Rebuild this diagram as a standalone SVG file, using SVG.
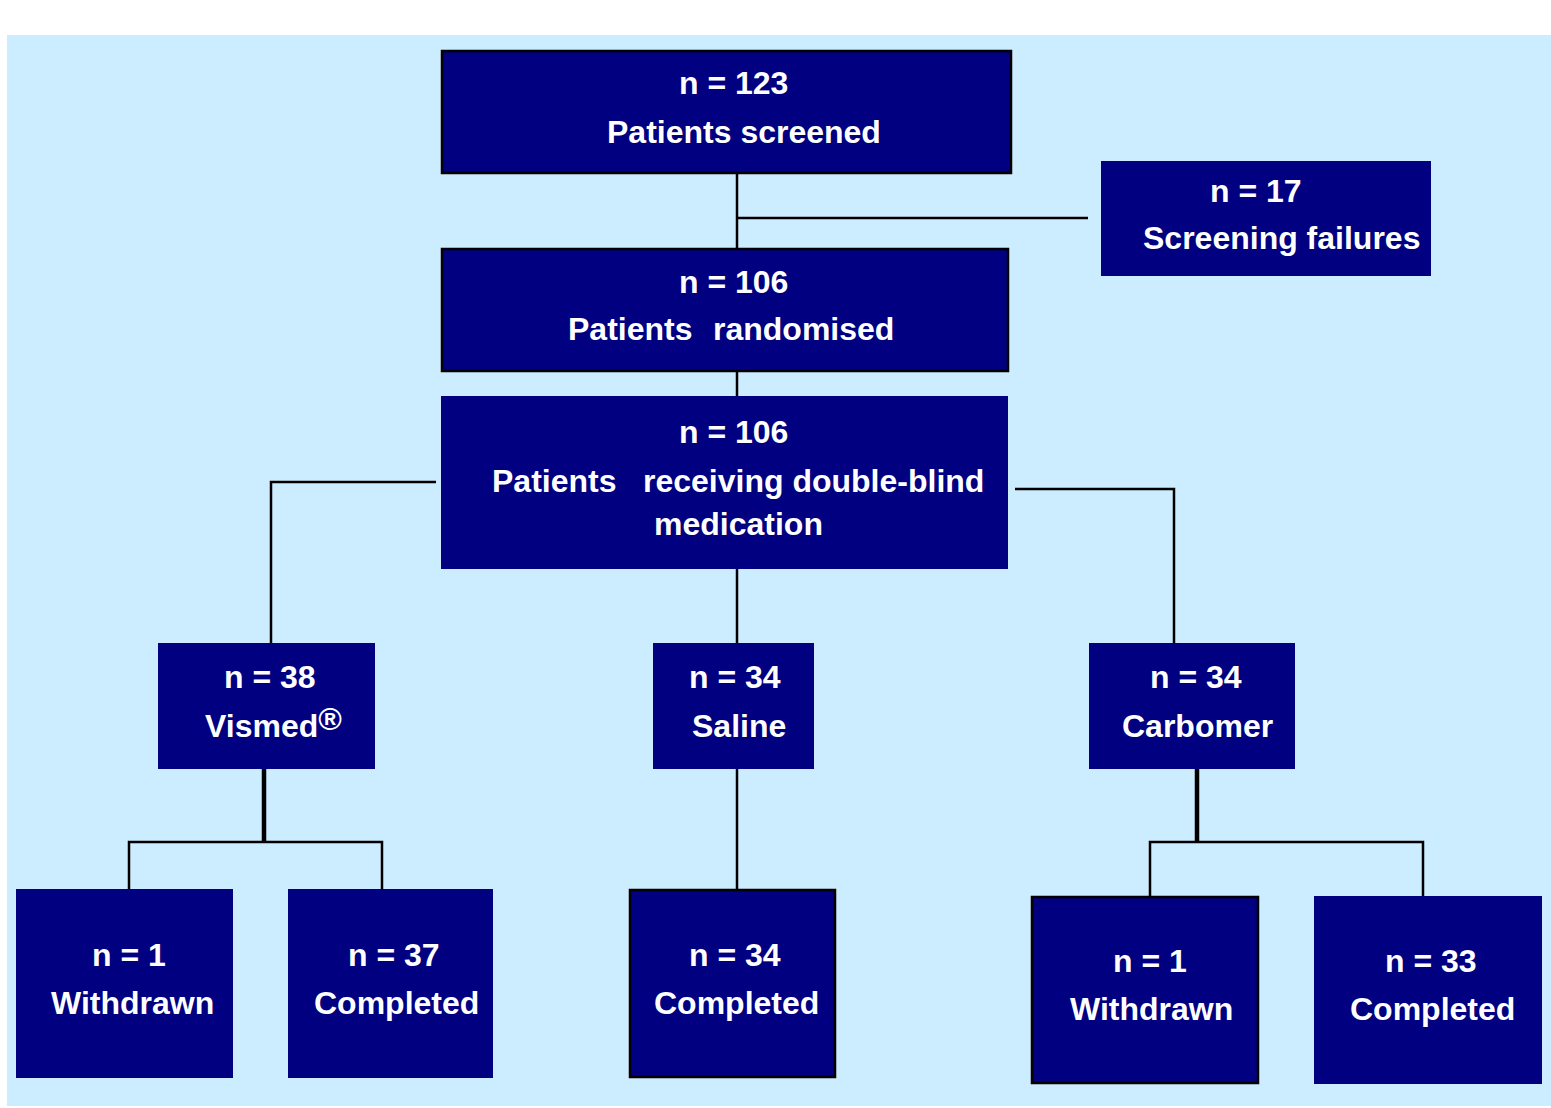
<svg xmlns="http://www.w3.org/2000/svg" width="1551" height="1108" viewBox="0 0 1551 1108">
<style>
.box{fill:#000080}
.bd{stroke:#000;stroke-width:2.5}
.t{font-family:"Liberation Sans",Arial,sans-serif;font-weight:bold;font-size:32px;fill:#fff}
.ln{stroke:#000;stroke-width:2.5;fill:none}
.thk{stroke:#000;stroke-width:4.5;fill:none}
</style>
<rect x="7" y="35" width="1544" height="1071" fill="#CCECFF"/>
<g id="connectors">
<line class="ln" x1="737" y1="173" x2="737" y2="249"/>
<line class="ln" x1="737" y1="218" x2="1088" y2="218"/>
<line class="ln" x1="737" y1="371" x2="737" y2="397"/>
<polyline class="ln" points="436,482 271,482 271,645"/>
<polyline class="ln" points="1015,489 1174,489 1174,653"/>
<line class="ln" x1="737" y1="569" x2="737" y2="644"/>
<line class="thk" x1="264" y1="769" x2="264" y2="842"/>
<polyline class="ln" points="129,891 129,842 382,842 382,891"/>
<line class="ln" x1="737" y1="769" x2="737" y2="890"/>
<line class="thk" x1="1197" y1="769" x2="1197" y2="842"/>
<polyline class="ln" points="1150,897 1150,842 1423,842 1423,897"/>
</g>
<g id="screened">
<rect class="box bd" x="442" y="51" width="569" height="122"/>
<text class="t" x="679" y="94">n = 123</text>
<text class="t" x="607" y="143">Patients screened</text>
</g>
<g id="failures">
<rect class="box" x="1101" y="161" width="330" height="115"/>
<text class="t" x="1210" y="202">n = 17</text>
<text class="t" x="1143" y="249">Screening failures</text>
</g>
<g id="randomised">
<rect class="box bd" x="442" y="249" width="566" height="122"/>
<text class="t" x="679" y="293">n = 106</text>
<text class="t"><tspan x="568" y="340">Patients</tspan><tspan x="713" y="340">randomised</tspan></text>
</g>
<g id="receiving">
<rect class="box" x="441" y="396" width="567" height="173"/>
<text class="t" x="679" y="443">n = 106</text>
<text class="t"><tspan x="492" y="492">Patients</tspan><tspan x="643" y="492">receiving double-blind</tspan></text>
<text class="t" x="654" y="535">medication</text>
</g>
<g id="vismed">
<rect class="box" x="158" y="643" width="217" height="126"/>
<text class="t" x="224" y="688">n = 38</text>
<text class="t" x="205" y="737">Vismed<tspan dy="-7">®</tspan></text>
</g>
<g id="saline">
<rect class="box" x="653" y="643" width="161" height="126"/>
<text class="t" x="689" y="688">n = 34</text>
<text class="t" x="692" y="737">Saline</text>
</g>
<g id="carbomer">
<rect class="box" x="1089" y="643" width="206" height="126"/>
<text class="t" x="1150" y="688">n = 34</text>
<text class="t" x="1122" y="737">Carbomer</text>
</g>
<g id="vismed-withdrawn">
<rect class="box" x="16" y="889" width="217" height="189"/>
<text class="t" x="92" y="966">n = 1</text>
<text class="t" x="51" y="1014">Withdrawn</text>
</g>
<g id="vismed-completed">
<rect class="box" x="288" y="889" width="205" height="189"/>
<text class="t" x="348" y="966">n = 37</text>
<text class="t" x="314" y="1014">Completed</text>
</g>
<g id="saline-completed">
<rect class="box bd" x="630" y="890" width="205" height="187"/>
<text class="t" x="689" y="966">n = 34</text>
<text class="t" x="654" y="1014">Completed</text>
</g>
<g id="carbomer-withdrawn">
<rect class="box bd" x="1032" y="897" width="226" height="186"/>
<text class="t" x="1113" y="972">n = 1</text>
<text class="t" x="1070" y="1020">Withdrawn</text>
</g>
<g id="carbomer-completed">
<rect class="box" x="1314" y="896" width="228" height="188"/>
<text class="t" x="1385" y="972">n = 33</text>
<text class="t" x="1350" y="1020">Completed</text>
</g>
</svg>
